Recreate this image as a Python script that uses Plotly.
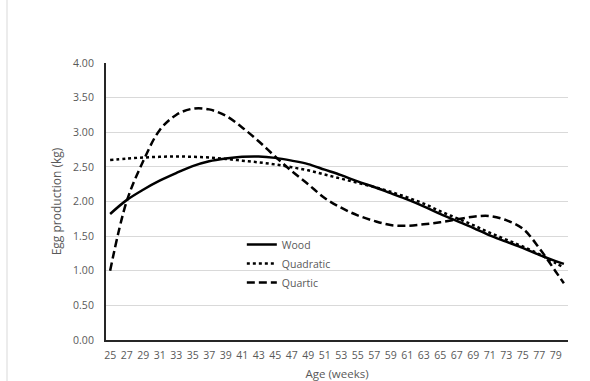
import plotly.graph_objects as go

weeks = [25, 27, 29, 31, 33, 35, 37, 39, 41, 43, 45, 47, 49, 51, 53, 55, 57, 59,
         61, 63, 65, 67, 69, 71, 73, 75, 77, 79, 80]

wood = [1.82, 2.02, 2.17, 2.30, 2.41, 2.51, 2.58, 2.62, 2.645, 2.65, 2.63, 2.59,
        2.54, 2.46, 2.38, 2.29, 2.21, 2.12, 2.03, 1.93, 1.82, 1.72, 1.62, 1.51,
        1.42, 1.33, 1.23, 1.14, 1.10]

quadratic = [2.60, 2.62, 2.635, 2.645, 2.65, 2.645, 2.635, 2.615, 2.59, 2.565,
             2.535, 2.495, 2.45, 2.39, 2.33, 2.27, 2.21, 2.14, 2.06, 1.97, 1.86,
             1.76, 1.66, 1.55, 1.45, 1.35, 1.24, 1.11, 1.05]

quartic = [1.00, 2.00, 2.58, 3.03, 3.25, 3.34, 3.33, 3.24, 3.07, 2.87, 2.65, 2.44,
           2.25, 2.05, 1.91, 1.80, 1.72, 1.66, 1.65, 1.67, 1.70, 1.74, 1.78, 1.79,
           1.73, 1.61, 1.33, 0.99, 0.82]

tick_weeks = [25, 27, 29, 31, 33, 35, 37, 39, 41, 43, 45, 47, 49, 51, 53, 55, 57,
              59, 61, 63, 65, 67, 69, 71, 73, 75, 77, 79]
y_ticks = [0, 0.5, 1.0, 1.5, 2.0, 2.5, 3.0, 3.5, 4.0]

FONT = "Open Sans"
GRAY = "#595959"

fig = go.Figure()
fig.add_trace(go.Scatter(x=weeks, y=wood, name="Wood", mode="lines",
                         line=dict(color="black", width=2.5, shape="spline", smoothing=1.0)))
fig.add_trace(go.Scatter(x=weeks, y=quadratic, name="Quadratic", mode="lines",
                         line=dict(color="black", width=2.5, dash="dot", shape="spline", smoothing=1.0)))
fig.add_trace(go.Scatter(x=weeks, y=quartic, name="Quartic", mode="lines",
                         line=dict(color="black", width=2.5, dash="8px,4px", shape="spline", smoothing=1.0)))

fig.update_layout(
    width=590, height=381,
    margin=dict(l=106, r=22, t=63, b=41),
    paper_bgcolor="white", plot_bgcolor="white",
    font=dict(family=FONT, size=10, color=GRAY),
    showlegend=True,
    legend=dict(x=0.294, y=0.397, xanchor="left", yanchor="top",
                bgcolor="rgba(0,0,0,0)", font=dict(size=10.5, color=GRAY),
                tracegroupgap=0, itemwidth=30),
    xaxis=dict(range=[24.5, 80.5], tickmode="array", tickvals=tick_weeks,
               ticktext=[str(w) for w in tick_weeks], automargin=False,
               showgrid=False, zeroline=False, showline=True,
               linecolor="#262626", linewidth=2, ticks="", ticklabelstandoff=4,
               tickfont=dict(size=10.5, color=GRAY),
               title=dict(text="Age (weeks)", font=dict(size=11.5, color=GRAY), standoff=12)),
    yaxis=dict(range=[0, 4], tickmode="array", tickvals=y_ticks,
               ticktext=[f"{v:.2f}" for v in y_ticks], automargin=False,
               showgrid=True, gridcolor="#d9d9d9", gridwidth=1,
               zeroline=False, showline=True, linecolor="#262626", linewidth=2,
               ticks="", ticklabelstandoff=8,
               tickfont=dict(size=10.5, color=GRAY),
               title=dict(text="Egg production (kg)", font=dict(size=12, color=GRAY), standoff=9)),
)

fig.add_shape(type="line", xref="paper", yref="paper",
              x0=-(106 - 7) / 462, x1=-(106 - 7) / 462, y0=-41 / 277, y1=(277 + 63) / 277,
              line=dict(color="#d9d9d9", width=1))

fig.write_html("out.html")
